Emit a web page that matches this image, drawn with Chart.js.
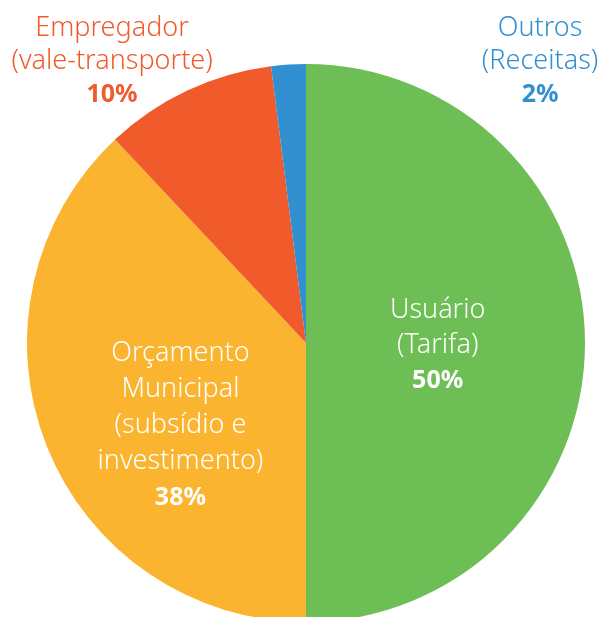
<!DOCTYPE html>
<html>
<head>
<meta charset="utf-8">
<script src="https://cdn.jsdelivr.net/npm/chart.js@4.4.1/dist/chart.umd.min.js"></script>
<style>
  html, body { margin: 0; padding: 0; background: #fff; overflow: hidden; }
  #wrap { width: 599px; height: 640px; }
</style>
</head>
<body>
<div id="wrap"><canvas id="pie"></canvas></div>
<script>
const labels = [
  ["Usuário", "(Tarifa)"],
  ["Orçamento", "Municipal", "(subsídio e", "investimento)"],
  ["Empregador", "(vale-transporte)"],
  ["Outros", "(Receitas)"],
];
const values = [50, 38, 10, 2];
const colors = ["#6dbe55", "#fbb42f", "#f15a2b", "#3390d0"];
const textColors = ["#ffffff", "#ffffff", "#f15a2b", "#3390d0"];

// first baseline of each label block, as fractions of the radius from the pie centre
const labelSpots = [
  { fx: 0.472, fy: -0.09, lh: 35 },
  { fx: -0.45, fy: 0.064, lh: 36 },
  { fx: -0.695, fy: -1.1, lh: 33 },
  { fx: 0.839, fy: -1.1, lh: 33 },
];

const labelPlugin = {
  id: "pieLabels",
  afterDraw(chart) {
    const ctx = chart.ctx;
    const arcs = chart.getDatasetMeta(0).data;
    ctx.save();
    ctx.textAlign = "center";
    ctx.textBaseline = "alphabetic";
    arcs.forEach((arc, i) => {
      const spot = labelSpots[i];
      const r = arc.outerRadius;
      const lines = labels[i];
      const cx = arc.x + spot.fx * r;
      const top = arc.y + spot.fy * r;
      ctx.fillStyle = textColors[i];
      ctx.font = "300 27px 'Noto Sans', sans-serif";
      lines.forEach((ln, j) => ctx.fillText(ln, cx, top + j * spot.lh));
      ctx.font = "bold 25px 'Noto Sans', sans-serif";
      ctx.fillText(values[i] + "%", cx, top + lines.length * spot.lh);
    });
    ctx.restore();
  },
};

new Chart(document.getElementById("pie"), {
  type: "pie",
  data: {
    labels: labels.map((l) => l.join(" ")),
    datasets: [
      {
        data: values,
        backgroundColor: colors,
        borderWidth: 0,
      },
    ],
  },
  options: {
    responsive: true,
    maintainAspectRatio: false,
    animation: false,
    layout: { padding: { top: 64, bottom: 18, left: 27, right: 14 } },
    plugins: { legend: { display: false }, tooltip: { enabled: false } },
  },
  plugins: [labelPlugin],
});
</script>
</body>
</html>
